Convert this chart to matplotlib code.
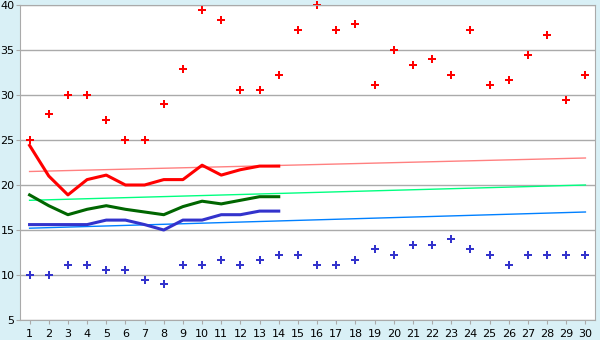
import numpy as np
import matplotlib.pyplot as plt

days = list(range(1, 31))
high_pts = [25, 27.9, 30, 30, 27.2, 25, 25, 29.0, 32.9, 39.4,
            38.3, 30.6, 30.6, 32.2, 37.2, 40, 37.2, 37.9, 31.1, 35.0,
            33.3, 34.0, 32.2, 37.2, 31.1, 31.7, 34.4, 36.7, 29.4, 32.2]
low_pts = [10, 10, 11.1, 11.1, 10.6, 10.6, 9.4, 9.0, 11.1, 11.1,
           11.7, 11.1, 11.7, 12.2, 12.2, 11.1, 11.1, 11.7, 12.9, 12.2,
           13.3, 13.3, 14.0, 12.9, 12.2, 11.1, 12.2, 12.2, 12.2, 12.2]
red_line = [24.4, 21.0, 18.9, 20.6, 21.1, 20.0, 20.0, 20.6, 20.6, 22.2,
            21.1, 21.7, 22.1, 22.1]
green_line = [18.9, 17.7, 16.7, 17.3, 17.7, 17.3, 17.0, 16.7, 17.6, 18.2,
              17.9, 18.3, 18.7, 18.7]
blue_line = [15.6, 15.6, 15.6, 15.6, 16.1, 16.1, 15.6, 15.0, 16.1, 16.1,
             16.7, 16.7, 17.1, 17.1]
# trend lines: value at day 1 and day 30
trend_red = [21.5, 23.0]
trend_green = [18.3, 20.0]
trend_blue = [15.2, 17.0]

bg = '#D9F0F6'
fig = plt.figure(figsize=(6, 3.4), dpi=100, facecolor=bg)
ax = fig.add_axes([20/600, 1-320/340, 575/600, 315/340])
ax.set_facecolor('white')

line_days = days[:len(red_line)]
ends = [days[0], days[-1]]
ax.plot(ends, trend_red, color='#FF8080', lw=1)
ax.plot(ends, trend_green, color='#00FF80', lw=1)
ax.plot(ends, trend_blue, color='#0080FF', lw=1)
ax.plot(line_days, red_line, color='#FF0000', lw=2.2)
ax.plot(line_days, green_line, color='#006600', lw=2.2)
ax.plot(line_days, blue_line, color='#3333CC', lw=2.2)
ax.plot(days, high_pts, 'P', color='#FF0000', ms=6, mew=0, clip_on=False)
ax.plot(days, low_pts, 'P', color='#3333CC', ms=6, mew=0, clip_on=False)

ax.set_xlim(0.5, 30.5)
ax.set_ylim(5, 40)
ax.set_xticks(days)
ax.set_yticks(range(5, 41, 5))
ax.yaxis.grid(True, color='#AAAAAA', lw=1)
ax.set_axisbelow(True)
for s in ax.spines.values():
    s.set_color('#AAAAAA')
ax.tick_params(colors='#AAAAAA', labelcolor='black', labelsize=8, length=3)
ax.tick_params(axis='y', pad=1)

fig.savefig('out.png', dpi=100, facecolor=bg)
